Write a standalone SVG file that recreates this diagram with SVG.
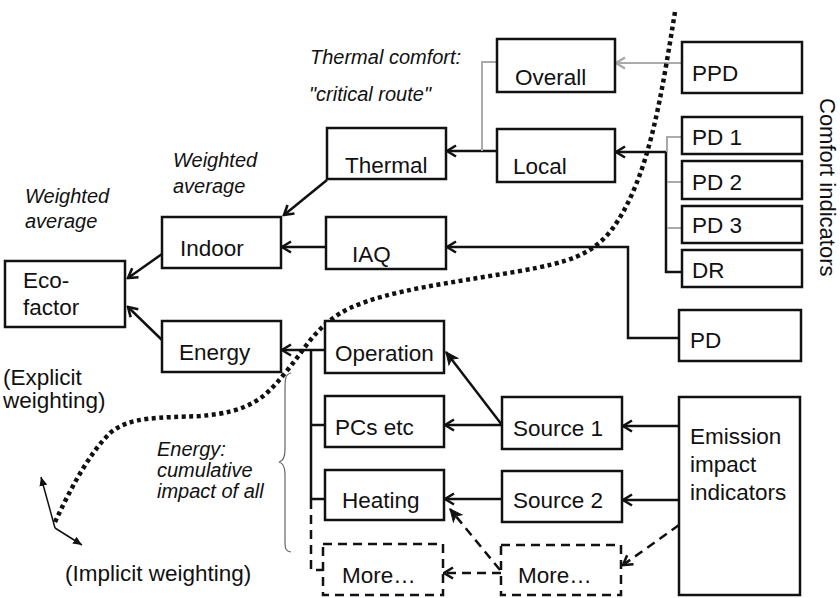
<svg xmlns="http://www.w3.org/2000/svg" width="840" height="598" viewBox="0 0 840 598">
<style>
.box{fill:#fff;stroke:#111;stroke-width:2.5}
.dbox{fill:#fff;stroke:#111;stroke-width:2.5;stroke-dasharray:9 6}
.t{font-family:"Liberation Sans",Arial,sans-serif;font-size:22.5px;fill:#111}
.it{font-family:"Liberation Sans",Arial,sans-serif;font-size:20px;font-style:italic;fill:#111}
.c{fill:none;stroke:#111;stroke-width:2.5}
.g{fill:none;stroke:#aaa;stroke-width:2}
.d{fill:none;stroke:#111;stroke-width:2.5;stroke-dasharray:9 6}
.thin{fill:none;stroke:#111;stroke-width:1.5}
</style>
<defs>
<marker id="ah" viewBox="0 0 14 14" refX="12" refY="7" markerWidth="14" markerHeight="14" markerUnits="userSpaceOnUse" orient="auto">
<path d="M3,1.5 L12,7 L3,12.5" fill="none" stroke="#111" stroke-width="2.6"/>
</marker>
<marker id="ahf" viewBox="0 0 14 14" refX="13" refY="7" markerWidth="14" markerHeight="14" markerUnits="userSpaceOnUse" orient="auto">
<path d="M1,1.5 L13,7 L1,12.5 L4,7 Z" fill="#111" stroke="#111" stroke-width="1"/>
</marker>
<marker id="ahg" viewBox="0 0 14 14" refX="12" refY="7" markerWidth="14" markerHeight="14" markerUnits="userSpaceOnUse" orient="auto">
<path d="M3,1.5 L12,7 L3,12.5" fill="none" stroke="#aaa" stroke-width="2.6"/>
</marker>
<marker id="ahs" viewBox="0 0 10 10" refX="9" refY="5" markerWidth="10" markerHeight="10" markerUnits="userSpaceOnUse" orient="auto">
<path d="M0,1 L9,5 L0,9 Z" fill="#111"/>
</marker>
</defs>

<g id="connectors">
<path class="c" d="M162,254 L128,278" marker-end="url(#ah)"/>
<path class="c" d="M162,340 L128,307" marker-end="url(#ah)"/>
<path class="c" d="M327,180 L284,215" marker-end="url(#ah)"/>
<path class="c" d="M326,247 L282,247" marker-end="url(#ah)"/>
<path class="c" d="M497,151 L447,151" marker-end="url(#ah)"/>
<path class="g" d="M482,151 L482,62 L497,62"/>
<path class="g" d="M682,63 L616,63" marker-end="url(#ahg)"/>
<path class="c" d="M682,272 L666,272 L666,152 L616,152" marker-end="url(#ah)"/>
<path class="g" d="M667,152 L667,137 L682,137 M667,182 L682,182 M667,228 L682,228"/>
<path class="c" d="M679,338 L628,338 L628,247 L447,247" marker-end="url(#ah)"/>
<path class="c" d="M325,350 L282,350" marker-end="url(#ah)"/>
<path class="c" d="M311,350 L311,499 L325,499 M311,425 L325,425"/>
<path class="d" d="M311,500 L311,570 L323,570"/>
<path class="c" d="M502,425 L445,425" marker-end="url(#ah)"/>
<path class="c" d="M502,425 L446,352" marker-end="url(#ahf)"/>
<path class="c" d="M502,499 L445,499" marker-end="url(#ah)"/>
<path class="c" d="M679,426 L623,426" marker-end="url(#ah)"/>
<path class="c" d="M679,500 L623,500" marker-end="url(#ah)"/>
<path class="d" d="M679,525 L623,565" marker-end="url(#ah)"/>
<path class="d" d="M500,570 L450,509" marker-end="url(#ahf)"/>
<path class="d" d="M501,573 L444,573" marker-end="url(#ah)"/>
</g>

<path fill="none" stroke="#111" stroke-width="4.5" stroke-dasharray="4 3.5" d="M675,12 C662,90 650,180 610,232 C590,255 570,262 520,271 C450,283 390,290 350,308 C315,325 305,350 285,373 C265,398 250,412 200,416 C160,418 130,416 110,433 C88,455 70,490 55,522"/>
<path fill="none" stroke="#666" stroke-width="1.2" d="M291,373 C285,374 285,380 285,390 L285,450 C285,458 283,461 279,462 C283,463 285,466 285,474 L285,540 C285,548 285,551 291,552"/>
<path class="thin" d="M55,528 L41,477" marker-end="url(#ahs)"/>
<path class="thin" d="M55,528 L82,545" marker-end="url(#ahs)"/>

<g id="eco"><rect class="box" x="5" y="261" width="120" height="66"/><text class="t" x="23" y="288">Eco-</text><text class="t" x="23" y="315">factor</text></g>
<g id="indoor"><rect class="box" x="162" y="217" width="119" height="51"/><text class="t" x="180" y="256">Indoor</text></g>
<g id="energy"><rect class="box" x="162" y="321" width="119" height="51"/><text class="t" x="179" y="360">Energy</text></g>
<g id="thermal"><rect class="box" x="327" y="128" width="119" height="51"/><text class="t" x="345" y="173">Thermal</text></g>
<g id="iaq"><rect class="box" x="326" y="217" width="120" height="52"/><text class="t" x="352" y="262">IAQ</text></g>
<g id="overall"><rect class="box" x="497" y="39" width="118" height="53"/><text class="t" x="515" y="85">Overall</text></g>
<g id="local"><rect class="box" x="497" y="129" width="118" height="53"/><text class="t" x="513" y="174">Local</text></g>
<g id="ppd"><rect class="box" x="682" y="42" width="120" height="51"/><text class="t" x="692" y="81">PPD</text></g>
<g id="pd1"><rect class="box" x="682" y="117" width="120" height="37"/><text class="t" x="692" y="145">PD 1</text></g>
<g id="pd2"><rect class="box" x="682" y="161" width="120" height="38"/><text class="t" x="692" y="190">PD 2</text></g>
<g id="pd3"><rect class="box" x="682" y="206" width="120" height="37"/><text class="t" x="692" y="233">PD 3</text></g>
<g id="dr"><rect class="box" x="682" y="250" width="120" height="37"/><text class="t" x="692" y="278">DR</text></g>
<g id="pd"><rect class="box" x="679" y="310" width="122" height="51"/><text class="t" x="690" y="348">PD</text></g>
<g id="emission"><rect class="box" x="679" y="397" width="121" height="198"/><text class="t" x="690" y="444">Emission</text><text class="t" x="690" y="472">impact</text><text class="t" x="690" y="500">indicators</text></g>
<g id="operation"><rect class="box" x="325" y="321" width="119" height="52"/><text class="t" x="335" y="361">Operation</text></g>
<g id="pcs"><rect class="box" x="325" y="396" width="119" height="51"/><text class="t" x="335" y="435">PCs etc</text></g>
<g id="heating"><rect class="box" x="325" y="470" width="119" height="50"/><text class="t" x="342" y="508">Heating</text></g>
<g id="more1"><rect class="dbox" x="323" y="544" width="120" height="51"/><text class="t" x="342" y="583">More…</text></g>
<g id="source1"><rect class="box" x="502" y="397" width="120" height="52"/><text class="t" x="513" y="436">Source 1</text></g>
<g id="source2"><rect class="box" x="502" y="471" width="120" height="51"/><text class="t" x="513" y="508">Source 2</text></g>
<g id="more2"><rect class="dbox" x="501" y="545" width="120" height="50"/><text class="t" x="518" y="583">More…</text></g>

<g id="labels">
<text class="it" x="310" y="64">Thermal comfort:</text>
<text class="it" x="309" y="101">"critical route"</text>
<text class="it" x="173" y="167">Weighted</text>
<text class="it" x="173" y="193">average</text>
<text class="it" x="25" y="203">Weighted</text>
<text class="it" x="25" y="228">average</text>
<text class="it" x="157" y="456">Energy:</text>
<text class="it" x="157" y="477">cumulative</text>
<text class="it" x="157" y="498">impact of all</text>
<text class="t" x="3" y="385">(Explicit</text>
<text class="t" x="3" y="408">weighting)</text>
<text class="t" x="65" y="581">(Implicit weighting)</text>
<text class="t" style="font-size:22px" transform="translate(820,98) rotate(90)">Comfort indicators</text>
</g>
</svg>
